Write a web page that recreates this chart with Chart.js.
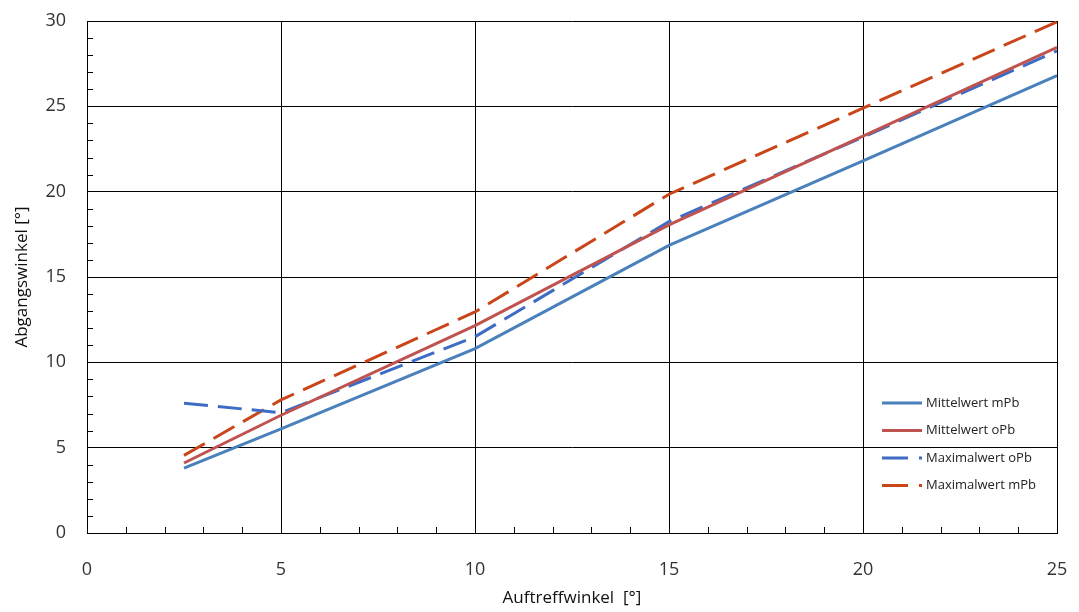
<!DOCTYPE html>
<html>
<head>
<meta charset="utf-8">
<script src="https://cdn.jsdelivr.net/npm/chart.js@4.4.0/dist/chart.umd.min.js"></script>
<style>
  html, body { margin: 0; padding: 0; background: #fff; }
  #wrap { width: 1079px; height: 612px; position: relative; }
</style>
</head>
<body>
<div id="wrap"><canvas id="chart"></canvas></div>
<script>
// -----------------------------
// Data
// -----------------------------
const auftreffwinkel = [2.5, 5, 10, 15, 20, 25];
const mittelwertMPb = [3.8, 6.1, 10.8, 16.85, 21.8, 26.8];
const mittelwertOPb = [4.1, 6.9, 12.15, 18.05, 23.25, 28.45];
const maximalwertOPb = [7.6, 7.05, 11.5, 18.25, 23.2, 28.25];
const maximalwertMPb = [4.55, 7.8, 12.95, 19.85, 24.9, 29.95];

const xTicks = [0, 5, 10, 15, 20, 25];
const yTicks = [0, 5, 10, 15, 20, 25, 30];

const seriesNames = ['Mittelwert mPb', 'Mittelwert oPb', 'Maximalwert oPb', 'Maximalwert mPb'];

const toPoints = ys => auftreffwinkel.map((x, i) => ({x: x, y: ys[i]}));

const FONT = "'Open Sans', 'Liberation Sans', sans-serif";

// -----------------------------
// Minor tick marks (inside the plot)
// -----------------------------
const minorTicks = {
  id: 'minorTicks',
  afterDatasetsDraw(chart) {
    const {ctx, chartArea, scales} = chart;
    ctx.save();
    ctx.strokeStyle = '#000';
    ctx.lineWidth = 1;
    ctx.beginPath();
    for (let v = 1; v < 30; v++) {
      if (v % 5 === 0) continue;
      const y = Math.round(scales.y.getPixelForValue(v)) + 0.5;
      ctx.moveTo(chartArea.left, y);
      ctx.lineTo(chartArea.left + 6, y);
    }
    for (let v = 1; v < 25; v++) {
      if (v % 5 === 0) continue;
      const x = Math.round(scales.x.getPixelForValue(v)) + 0.5;
      ctx.moveTo(x, chartArea.bottom);
      ctx.lineTo(x, chartArea.bottom - 6);
    }
    ctx.stroke();
    ctx.restore();
  }
};

// -----------------------------
// Legend inside plot, lower right
// -----------------------------
const innerLegend = {
  id: 'innerLegend',
  afterDraw(chart) {
    const {ctx} = chart;
    const x0 = 882, y0 = 403, rowH = 27.5;
    ctx.save();
    ctx.font = "13px " + FONT;
    ctx.textBaseline = 'middle';
    chart.data.datasets.forEach((ds, i) => {
      const y = y0 + i * rowH;
      ctx.beginPath();
      ctx.strokeStyle = ds.borderColor;
      ctx.lineWidth = 3;
      ctx.setLineDash(ds.borderDash && ds.borderDash.length ? [26, 11] : []);
      ctx.moveTo(x0, y);
      ctx.lineTo(x0 + 40, y);
      ctx.stroke();
      ctx.setLineDash([]);
      ctx.fillStyle = '#222';
      ctx.fillText(ds.label, x0 + 44, y);
    });
    ctx.restore();
  }
};

new Chart(document.getElementById('chart'), {
  type: 'line',
  data: {
    datasets: [
      {label: seriesNames[0], data: toPoints(mittelwertMPb), borderColor: '#4a80bb', borderWidth: 3, borderDash: []},
      {label: seriesNames[1], data: toPoints(mittelwertOPb), borderColor: '#bf5350', borderWidth: 3, borderDash: []},
      {label: seriesNames[2], data: toPoints(maximalwertOPb), borderColor: '#3d6cc4', borderWidth: 3, borderDash: [24, 10]},
      {label: seriesNames[3], data: toPoints(maximalwertMPb), borderColor: '#c8461a', borderWidth: 3, borderDash: [24, 10]}
    ]
  },
  options: {
    responsive: true,
    maintainAspectRatio: false,
    animation: false,
    layout: {padding: {left: 12, right: 22, top: 21, bottom: 0}},
    elements: {point: {radius: 0}, line: {tension: 0}},
    plugins: {legend: {display: false}, tooltip: {enabled: false}},
    scales: {
      x: {
        type: 'linear',
        min: 0, max: 25,
        afterBuildTicks: s => { s.ticks = xTicks.map(v => ({value: v})); },
        afterFit: s => { s.height = 79; s.paddingLeft = 0; s.paddingRight = 0; },
        grid: {color: '#000', lineWidth: 1, drawTicks: false},
        border: {color: '#000', width: 1},
        ticks: {color: '#333', font: {family: FONT, size: 18}, padding: 26, maxRotation: 0},
        title: {display: true, text: 'Auftreffwinkel  [°]', color: '#111', font: {family: FONT, size: 17}, padding: {top: 4, bottom: 4}}
      },
      y: {
        type: 'linear',
        min: 0, max: 30,
        afterBuildTicks: s => { s.ticks = yTicks.map(v => ({value: v})); },
        afterFit: s => { s.width = 75; s.paddingTop = 0; s.paddingBottom = 0; },
        grid: {color: '#000', lineWidth: 1, drawTicks: false},
        border: {color: '#000', width: 1},
        ticks: {color: '#333', font: {family: FONT, size: 18}, padding: 21},
        title: {display: true, text: 'Abgangswinkel [°]', color: '#111', font: {family: FONT, size: 17}, padding: {top: 0, bottom: 0}}
      }
    }
  },
  plugins: [minorTicks, innerLegend]
});
</script>
</body>
</html>
